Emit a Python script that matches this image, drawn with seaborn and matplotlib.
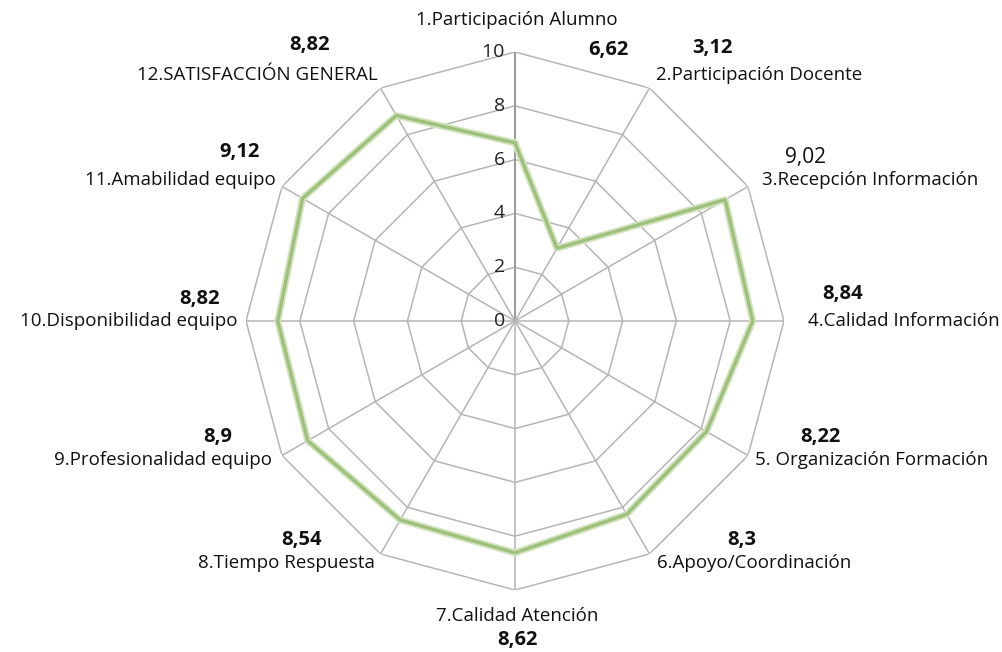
import numpy as np
import pandas as pd
import seaborn as sns
import matplotlib.pyplot as plt

categories = ["1.Participación Alumno", "2.Participación Docente", "3.Recepción Información",
              "4.Calidad Información", "5. Organización Formación", "6.Apoyo/Coordinación",
              "7.Calidad Atención", "8.Tiempo Respuesta", "9.Profesionalidad equipo",
              "10.Disponibilidad equipo", "11.Amabilidad equipo", "12.SATISFACCIÓN GENERAL"]
values = [6.62, 3.12, 9.02, 8.84, 8.22, 8.3, 8.62, 8.54, 8.9, 8.82, 9.12, 8.82]
value_labels = ["6,62", "3,12", "9,02", "8,84", "8,22", "8,3", "8,62", "8,54", "8,9", "8,82", "9,12", "8,82"]
value_bold = [True, True, False, True, True, True, True, True, True, True, True, True]
ticks = [0, 2, 4, 6, 8, 10]

sns.set_style("white")
plt.rcParams['font.family'] = ['Open Sans', 'DejaVu Sans']

W, H = 1002, 652
fig = plt.figure(figsize=(W / 100, H / 100), dpi=100)
cx, cy, R = 515, 321, 269
ax = fig.add_axes([(cx - R) / W, (H - cy - R) / H, 2 * R / W, 2 * R / H], projection='polar')
ax.set_theta_zero_location('N')
ax.set_theta_direction(-1)
ax.set_ylim(0, 10)
ax.grid(False)
ax.spines['polar'].set_visible(False)
ax.set_xticks([])
ax.set_yticks([])
ax.patch.set_alpha(0)

n = len(categories)
angles = np.linspace(0, 2 * np.pi, n, endpoint=False)
closed = np.append(angles, 2 * np.pi)

# polygon grid
for t in ticks[1:]:
    ax.plot(closed, [t] * (n + 1), color='#B5B5B5', lw=1.1, zorder=1)
for i, a in enumerate(angles):
    ax.plot([a, a], [0, 10], color='#999999' if i == 0 else '#B5B5B5',
            lw=1.4 if i == 0 else 1.1, zorder=1)

df = pd.DataFrame({"angle": closed, "value": values + values[:1]})
sns.lineplot(data=df, x="angle", y="value", ax=ax, sort=False, estimator=None,
             color='#D3E3C0', lw=5, zorder=3)
sns.lineplot(data=df, x="angle", y="value", ax=ax, sort=False, estimator=None,
             color='#9DC07A', lw=2.4, zorder=4)
ax.set_xlabel("")
ax.set_ylabel("")

for t in ticks:
    ax.text(0, t, f"{t}  ", ha='right', va='center', fontsize=14, color='#222222')


# category labels (pixel anchors)
cat_pos = [(517, 20, 'center'), (656, 75, 'left'), (762, 180, 'left'), (808, 321, 'left'),
           (755, 460, 'left'), (657, 563, 'left'), (517, 616, 'center'), (375, 563, 'right'),
           (272, 460, 'right'), (238, 321, 'right'), (276, 180, 'right'), (378, 75, 'right')]
val_pos = [(608, 50), (712, 48), (805, 157), (843, 294), (820, 437), (742, 540),
           (517, 640), (302, 540), (218, 437), (200, 299), (240, 152), (310, 45)]
for i in range(n):
    x, y, ha = cat_pos[i]
    fig.text(x / W, 1 - y / H, categories[i], ha=ha, va='center', fontsize=13.5, color='#111111')
    vx, vy = val_pos[i]
    fig.text(vx / W, 1 - vy / H, value_labels[i], ha='center', va='center',
             fontsize=14.5 if value_bold[i] else 15,
             fontweight='bold' if value_bold[i] else 'normal', color='#111111')

fig.savefig("out.png", dpi=100)
